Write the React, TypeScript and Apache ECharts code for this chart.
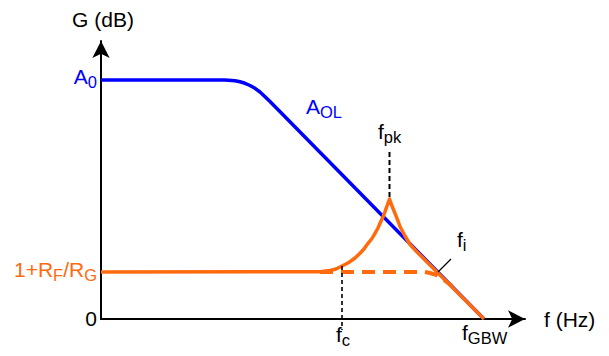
import React, { useEffect, useRef } from "react";
import * as echarts from "echarts";

// Schematic Bode plot values (x: frequency position, y: gain position, arbitrary units)
const aolX = [0, 124, 134, 139, 144, 149, 154, 159, 164, 169, 383];
const aolY = [239, 239, 238.3, 237.2, 235.7, 233.5, 230.7, 227, 222.3, 217.5, 0];

const peakX = [0, 219, 229, 235, 241, 245, 249, 254, 259, 263, 267, 271, 274, 277, 279, 282, 284, 286, 288.5, 291, 294, 297, 299, 304, 309, 316, 383];
const peakY = [47, 47.2, 48.5, 50, 53, 55, 57.3, 61, 65.7, 70, 75.7, 80.5, 85.7, 91, 95.7, 102, 107.3, 113, 120, 113, 105.7, 98, 92.5, 83, 74.5, 67, 0];

const flatX = [219, 324, 329, 334, 339, 345, 351];
const flatY = [47, 47, 46, 44.5, 42, 37.5, 33];

const fpkX = [288.5, 288.5];
const fpkY = [122, 169];
const fcX = [241, 241];
const fcY = [53, -11];
const fiX = [337, 350];
const fiY = [47, 60];

const BLUE = "#0000ff";
const ORANGE = "#ff6a0d";
const FONT = "'Liberation Sans', Arial, sans-serif";

const zip = (xs: number[], ys: number[]) => xs.map((x, i) => [x, ys[i]]);

const rich = (color: string) => ({
  m: { fontSize: 21, fontFamily: FONT, fill: color, lineHeight: 22, padding: [0, 0, 3, 0], verticalAlign: "bottom" },
  s: { fontSize: 16.5, fontFamily: FONT, fill: color, lineHeight: 16, verticalAlign: "bottom" },
});

const label = (x: number, y: number, text: string, color: string, align: string) => ({
  type: "text",
  x,
  y,
  silent: true,
  style: {
    text,
    fill: color,
    font: `21px ${FONT}`,
    align,
    verticalAlign: "top",
    rich: rich(color),
  },
});

export default function App() {
  const ref = useRef<HTMLDivElement>(null);
  useEffect(() => {
    document.body.style.margin = "0";
    const chart = echarts.init(ref.current!, null, { renderer: "svg" });
    const axisLine = {
      show: true,
      onZero: false,
      symbol: ["none", "arrow"],
      symbolSize: [13, 17],
      lineStyle: { color: "#000", width: 2 },
    };
    chart.setOption({
      animation: false,
      backgroundColor: "#fff",
      grid: { left: 101, right: 84, top: 41, bottom: 37 },
      xAxis: {
        type: "value",
        min: 0,
        max: 424,
        axisLine,
        axisTick: { show: false },
        axisLabel: { show: false },
        splitLine: { show: false },
      },
      yAxis: {
        type: "value",
        min: 0,
        max: 278,
        axisLine,
        axisTick: { show: false },
        axisLabel: { show: false },
        splitLine: { show: false },
      },
      series: [
        {
          type: "line",
          name: "AOL",
          data: zip(aolX, aolY),
          showSymbol: false,
          lineStyle: { color: BLUE, width: 3.5, join: "round" },
          z: 2,
        },
        {
          type: "line",
          name: "flat",
          data: zip(flatX, flatY),
          showSymbol: false,
          lineStyle: { color: ORANGE, width: 4, type: [13, 8], join: "round" },
          z: 3,
        },
        {
          type: "line",
          name: "peak",
          data: zip(peakX, peakY),
          showSymbol: false,
          lineStyle: { color: ORANGE, width: 3.5, join: "round" },
          z: 4,
        },
        {
          type: "line",
          name: "fpk",
          data: zip(fpkX, fpkY),
          showSymbol: false,
          clip: false,
          lineStyle: { color: "#000", width: 2, type: [5, 3] },
          z: 1,
        },
        {
          type: "line",
          name: "fc",
          data: zip(fcX, fcY),
          showSymbol: false,
          clip: false,
          lineStyle: { color: "#000", width: 1.6, type: [4, 3] },
          z: 5,
        },
        {
          type: "line",
          name: "fi",
          data: zip(fiX, fiY),
          showSymbol: false,
          clip: false,
          lineStyle: { color: "#000", width: 1.3 },
          z: 5,
        },
      ],
      graphic: [
        label(103, 11, "{m|G (dB)}", "#000", "center"),
        label(97, 68, "{m|A}{s|0}", BLUE, "right"),
        label(306, 98, "{m|A}{s|OL}", BLUE, "left"),
        label(378, 123, "{m|f}{s|pk}", "#000", "left"),
        label(457, 231, "{m|f}{s|i}", "#000", "left"),
        label(97, 261, "{m|1+R}{s|F}{m|/R}{s|G}", ORANGE, "right"),
        label(97, 310, "{m|0}", "#000", "right"),
        label(336, 326, "{m|f}{s|c}", "#000", "left"),
        label(462, 324, "{m|f}{s|GBW}", "#000", "left"),
        label(544, 311, "{m|f (Hz)}", "#000", "left"),
      ],
    });
    return () => chart.dispose();
  }, []);
  return <div ref={ref} style={{ width: 609, height: 356 }} />;
}
